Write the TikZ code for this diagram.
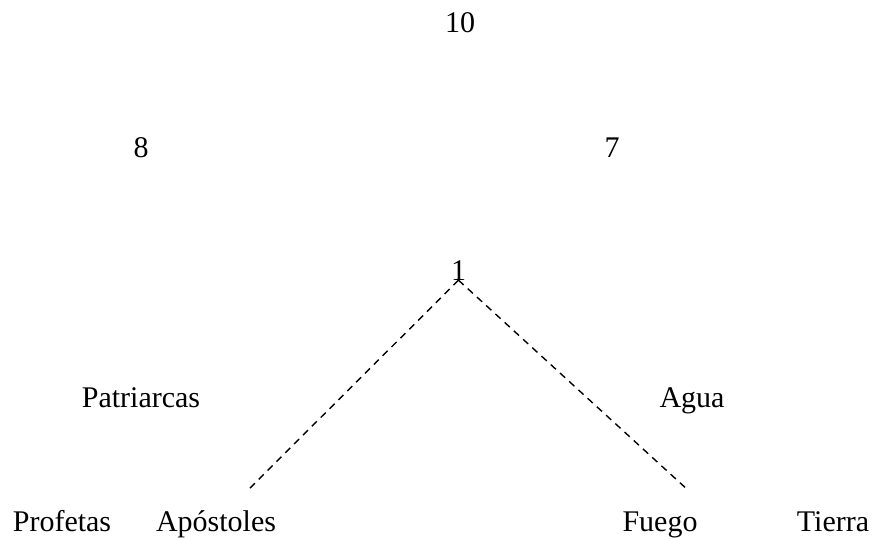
\documentclass[tikz,border=0pt]{standalone}
\usepackage{fontspec}
\setmainfont{Liberation Serif}

\begin{document}
\begin{tikzpicture}[x=1pt, y=-1pt,
    lbl/.style={inner sep=0pt, anchor=base, font=\fontsize{30}{36}\selectfont},
    link/.style={dash pattern=on 7pt off 5.5pt, line width=1.4pt}]
  \useasboundingbox (0,0) rectangle (875,538);
  \node (diez)   [lbl] at (460,32)   {10};
  \node (ocho)   [lbl] at (141,157)  {8};
  \node (siete)  [lbl] at (612,157)  {7};
  \node (uno)    [lbl] at (458.5,280) {1};
  \node (patr)   [lbl] at (141,407)  {Patriarcas};
  \node (agua)   [lbl] at (692,407)  {Agua};
  \node (prof)   [lbl] at (62,531)   {Profetas};
  \node (apos)   [lbl] at (216,531)  {Apóstoles};
  \node (fuego)  [lbl] at (660,531)  {Fuego};
  \node (tierra) [lbl] at (833,531)  {Tierra};
  \coordinate (apos-top)  at (247,491);
  \coordinate (fuego-top) at (689,491);
  \draw[link] (uno.south) -- (apos-top);
  \draw[link] (uno.south) -- (fuego-top);
\end{tikzpicture}
\end{document}
